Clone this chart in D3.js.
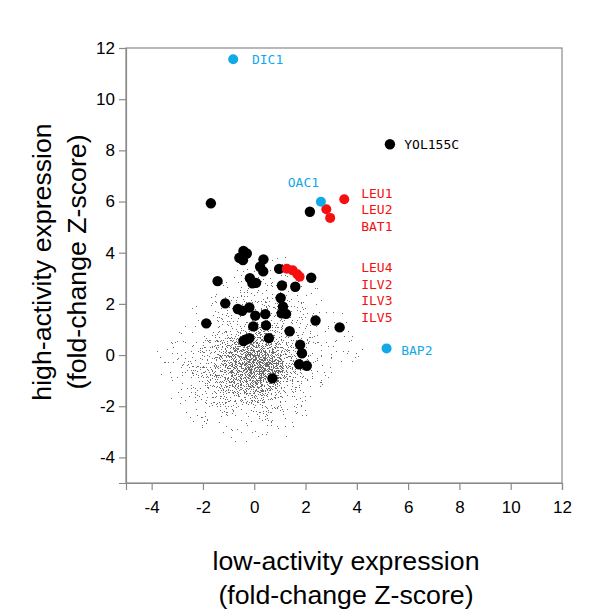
<!DOCTYPE html>
<html>
<head>
<meta charset="utf-8">
<script src="https://cdn.jsdelivr.net/npm/d3@7"></script>
<style>
  html, body { margin: 0; padding: 0; background: #fff; }
  svg { display: block; }
</style>
</head>
<body>
<svg id="chart" width="600" height="613"></svg>
<script>
// ---------- data ----------
const xTicks = [-4, -2, 0, 2, 4, 6, 8, 10, 12];
const yTicks = [-4, -2, 0, 2, 4, 6, 8, 10, 12];

// highlighted genes (black)
const blackX = [5.29, -1.69, 2.17, -0.42, -0.29, -0.58, -0.44, 0.36, 0.23, 0.35, 0.97, -1.43, -0.17, -0.07, 0.07, 1.08, 1.60, 2.22, -1.13, 1.03, 1.12, -0.64, -0.47, -0.19, 1.07, 1.24, 0.04, 0.43, 2.39, -1.87, -0.04, 0.46, 1.38, 3.33, -0.32, -0.19, -0.42, 0.57, 1.79, 1.86, 1.75, 2.05, 0.71];
const blackY = [8.24, 5.93, 5.60, 4.07, 3.97, 3.80, 3.71, 3.74, 3.45, 3.27, 3.37, 2.89, 3.00, 2.80, 2.82, 2.72, 2.67, 3.02, 2.02, 2.23, 1.89, 1.80, 1.73, 1.86, 1.63, 1.61, 1.54, 1.60, 1.35, 1.24, 1.12, 1.16, 0.93, 1.08, 0.61, 0.66, 0.55, 0.66, 0.40, 0.07, -0.36, -0.42, -0.91];

// leucine / BCAA pathway genes (red)
const redX = [3.51, 2.81, 2.96, 1.27, 1.50, 1.68, 1.77];
const redY = [6.09, 5.70, 5.36, 3.37, 3.31, 3.16, 3.06];

// transporters (blue)
const blueX = [-0.82, 2.60, 5.16];
const blueY = [11.56, 5.99, 0.26];

// labels (text, anchor in data units, colour group)
const labelText  = ["DIC1", "OAC1", "YOL155C", "BAP2", "LEU1\nLEU2\nBAT1", "LEU4\nILV2\nILV3\nILV5"];
const labelX     = [-0.09, 2.53, 5.85, 5.73, 4.17, 4.17];
const labelY     = [11.56, 6.76, 8.24, 0.20, 6.34, 3.43];
const labelGroup = ["blue", "blue", "black", "blue", "red", "red"];
const labelAlign = ["start", "end", "start", "start", "start", "start"];

// background genes: relative point density (0-9),
// cells 0.5 units wide; columns x = -4.5 .. 5.5, rows y = 4 .. -4
const densityX0 = -4.5, densityY0 = 4, densityStep = 0.5;
const densityRows = [
  [0,0,0,0,0,0,0,0,1,1,1,1,0,0,0,0,0,0,0,0],
  [0,0,0,0,0,0,1,1,1,1,1,1,1,1,0,0,0,0,0,0],
  [0,0,0,0,0,1,1,1,1,2,2,1,1,1,1,0,0,0,0,0],
  [0,0,0,0,1,1,1,2,2,2,2,2,1,1,1,0,0,0,0,0],
  [0,0,0,0,1,1,2,2,2,3,3,2,2,1,1,1,0,0,0,0],
  [0,0,0,1,1,1,2,3,3,3,3,3,2,1,1,1,1,0,0,0],
  [0,0,1,1,1,2,3,4,4,5,4,3,2,2,1,1,1,0,0,0],
  [0,1,1,1,2,3,4,6,7,7,6,4,3,2,1,1,1,1,0,0],
  [0,1,1,2,2,3,5,7,9,9,8,5,3,2,1,1,1,1,0,0],
  [0,1,1,2,3,4,5,7,8,8,7,5,3,2,1,1,0,0,0,0],
  [0,0,1,1,2,3,4,5,6,6,5,3,2,1,1,0,0,0,0,0],
  [0,0,1,1,2,2,3,3,4,4,3,2,2,1,0,0,0,0,0,0],
  [0,0,0,1,1,1,2,2,2,3,2,2,1,1,0,0,0,0,0,0],
  [0,0,0,0,1,1,1,1,1,2,1,1,1,0,0,0,0,0,0,0],
  [0,0,0,0,0,0,1,1,1,1,1,1,0,0,0,0,0,0,0,0],
  [0,0,0,0,0,0,0,0,0,1,0,0,0,0,0,0,0,0,0,0]
];

const xTitle = ["low-activity expression", "(fold-change Z-score)"];
const yTitle = ["high-activity expression", "(fold-change Z-score)"];

// ---------- style ----------
const colors = { black: "#000000", red: "#f50f0f", blue: "#12a9e9" };
const axisColor = "#8a8a8a";
const L = 126, R = 562, T = 48, B = 483;
// stipple strength for each density level 0..9 (rendering style only)
const stippleAlpha = [0, 0.27, 0.32, 0.36, 0.40, 0.44, 0.47, 0.49, 0.51, 0.53];

const svg = d3.select("#chart");
const x = d3.scaleLinear().domain([-5, 12]).range([L, R]);
const y = d3.scaleLinear().domain([-5, 12]).range([B, T]);

// ---------- stipple filter for the background cloud ----------
const defs = svg.append("defs");
const f = defs.append("filter").attr("id", "stipple")
  .attr("filterUnits", "userSpaceOnUse")
  .attr("x", L).attr("y", T).attr("width", R - L).attr("height", B - T)
  .attr("color-interpolation-filters", "sRGB");
f.append("feGaussianBlur").attr("in", "SourceAlpha").attr("stdDeviation", 4).attr("result", "dens");
f.append("feTurbulence").attr("type", "fractalNoise").attr("baseFrequency", 1.2)
  .attr("numOctaves", 2).attr("seed", 7).attr("result", "noise");
f.append("feColorMatrix").attr("in", "noise").attr("type", "matrix")
  .attr("values", "0 0 0 0 0  0 0 0 0 0  0 0 0 0 0  1 0 0 0 0").attr("result", "nA");
f.append("feComposite").attr("in", "dens").attr("in2", "nA").attr("operator", "arithmetic")
  .attr("k1", 0).attr("k2", 1).attr("k3", 1).attr("k4", -0.5).attr("result", "sum");
const ct = f.append("feComponentTransfer").attr("in", "sum").attr("result", "mask");
ct.append("feFuncA").attr("type", "discrete").attr("tableValues", "0 1");
f.append("feFlood").attr("flood-color", "#6c6c6c").attr("result", "ink");
f.append("feComposite").attr("in", "ink").attr("in2", "mask").attr("operator", "in");

const cells = [];
densityRows.forEach((row, r) => row.forEach((d, c) => {
  if (d > 0) cells.push({ x0: densityX0 + c * densityStep, y0: densityY0 - r * densityStep, d });
}));
svg.append("g").attr("filter", "url(#stipple)")
  .selectAll("rect").data(cells).join("rect")
  .attr("x", d => x(d.x0))
  .attr("y", d => y(d.y0))
  .attr("width", d => x(d.x0 + densityStep) - x(d.x0))
  .attr("height", d => y(d.y0 - densityStep) - y(d.y0))
  .attr("fill", "#000")
  .attr("fill-opacity", d => stippleAlpha[d.d]);

// ---------- frame & axes ----------
svg.append("rect").attr("x", L).attr("y", T).attr("width", R - L).attr("height", B - T)
  .attr("fill", "none").attr("stroke", axisColor).attr("stroke-width", 1.2);

const fmt = d => String(d);
const gx = svg.append("g").attr("transform", `translate(0,${B})`)
  .call(d3.axisBottom(x).tickValues(xTicks).tickFormat(fmt).tickSize(7).tickPadding(11));
const gy = svg.append("g").attr("transform", `translate(${L},0)`)
  .call(d3.axisLeft(y).tickValues(yTicks).tickFormat(fmt).tickSize(7).tickPadding(4));
[gx, gy].forEach(g => {
  g.select(".domain").attr("stroke", axisColor).attr("stroke-width", 1.2);
  g.selectAll(".tick line").attr("stroke", axisColor).attr("stroke-width", 1.2);
  g.selectAll(".tick text").attr("fill", "#000")
    .style("font-family", "'Liberation Sans', Arial, sans-serif").style("font-size", "17px");
});

// ---------- points ----------
function dots(xs, ys, color, r) {
  svg.append("g").selectAll("circle").data(xs.map((v, i) => [v, ys[i]])).join("circle")
    .attr("cx", d => x(d[0])).attr("cy", d => y(d[1])).attr("r", r).attr("fill", color);
}
dots(blackX, blackY, colors.black, 5.2);
dots(redX, redY, colors.red, 5);
dots(blueX, blueY, colors.blue, 5);

// ---------- labels ----------
const lg = svg.append("g")
  .style("font-family", "'DejaVu Sans Mono', monospace").style("font-size", "13px");
labelText.forEach((t, i) => {
  const txt = lg.append("text")
    .attr("x", x(labelX[i])).attr("y", y(labelY[i]))
    .attr("text-anchor", labelAlign[i])
    .attr("fill", colors[labelGroup[i]]);
  t.split("\n").forEach((line, j) => {
    txt.append("tspan").attr("x", x(labelX[i])).attr("y", y(labelY[i]) + j * 16.7)
      .attr("dy", "0.36em").text(line);
  });
});

// ---------- axis titles ----------
const titleFont = "'Liberation Sans', Arial, sans-serif";
xTitle.forEach((t, j) => {
  svg.append("text").attr("x", 346).attr("y", 570 + j * 34)
    .attr("text-anchor", "middle").style("font-family", titleFont).style("font-size", "26.7px")
    .attr("fill", "#000").text(t);
});
yTitle.forEach((t, j) => {
  svg.append("text").attr("transform", `translate(${51 + j * 35},262) rotate(-90)`)
    .attr("text-anchor", "middle").style("font-family", titleFont).style("font-size", "26.7px")
    .attr("fill", "#000").text(t);
});
</script>
</body>
</html>
